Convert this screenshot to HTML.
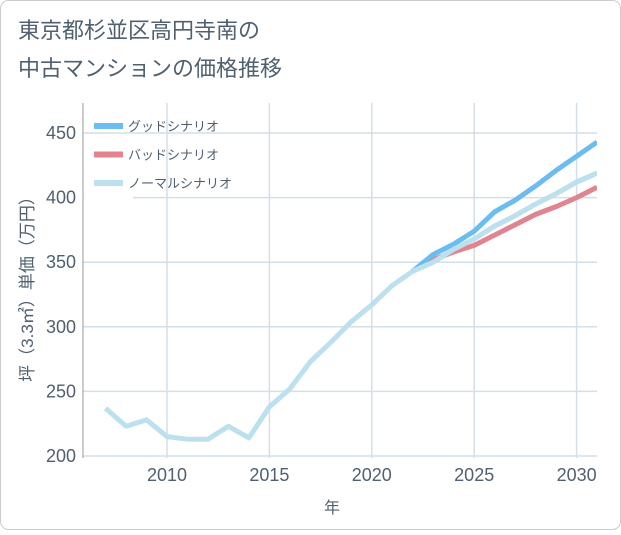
<!DOCTYPE html>
<html><head><meta charset="utf-8"><style>
body{margin:0;background:#fff;}
#wrap{position:relative;width:621px;height:530px;font-family:"Liberation Sans","Noto Sans CJK JP",sans-serif;}
</style></head><body>
<div id="wrap">
<svg id="chart" width="621" height="530" xmlns="http://www.w3.org/2000/svg">
<rect x="0.5" y="0.5" width="620" height="529" rx="8" fill="#fff" stroke="#ccc"/>
<text x="18" y="38" font-size="22" fill="#506070" font-family="Liberation Sans, Noto Sans CJK JP, sans-serif">東京都杉並区高円寺南の</text>
<text x="18" y="76" font-size="22" fill="#506070" font-family="Liberation Sans, Noto Sans CJK JP, sans-serif">中古マンションの価格推移</text>
<g id="grid"></g><g id="axes"></g><g id="series"></g><g id="legend"></g>
<text x="332" y="513" font-size="16" fill="#506070" text-anchor="middle" font-family="Liberation Sans, Noto Sans CJK JP, sans-serif">年</text>
<text transform="translate(33,285) rotate(-90)" font-size="17" fill="#506070" text-anchor="middle" font-family="Liberation Sans, Noto Sans CJK JP, sans-serif">坪（3.3㎡）単価（万円）</text>
</svg>
</div>
<script>
const years=[2007,2008,2009,2010,2011,2012,2013,2014,2015,2016,2017,2018,2019,2020,2021,2022,2023,2024,2025,2026,2027,2028,2029,2030,2031];
const normal=[237,223,228,215,213,213,223,214,238,252,273,288,304,317,332,343,350,360,368,378,386,395,403,412,419];
const goodYears=[2022,2023,2024,2025,2026,2027,2028,2029,2030,2031];
const good=[343,356,364,374,389,398,409,421,432,443];
const bad=[343,352,358,363,371,379,387,393,400,408];
const xTicks=[2010,2015,2020,2025,2030];
const yTicks=[200,250,300,350,400,450];
const L=83,R=597,T=103,B=458;
const x=v=>167+(v-2010)*20.48;
const y=v=>456-(v-200)*1.292;
const NS='http://www.w3.org/2000/svg';
function mk(p,tag,a){const e=document.createElementNS(NS,tag);for(const k in a)e.setAttribute(k,a[k]);p.appendChild(e);return e;}
const grid=document.getElementById('grid'),axes=document.getElementById('axes'),ser=document.getElementById('series'),leg=document.getElementById('legend');
xTicks.forEach(t=>{const l=mk(grid,'line',{x1:x(t),x2:x(t),y1:T,y2:B,stroke:'#d3dfe9','stroke-width':1.5});


const tx=mk(axes,'text',{x:x(t),y:481,'font-size':18,fill:'#506070','text-anchor':'middle'});tx.textContent=t;

});
yTicks.forEach(t=>{const l=mk(grid,'line',{x1:L,x2:R,y1:y(t),y2:y(t),stroke:'#d3dfe9','stroke-width':1.5});


const tx=mk(axes,'text',{x:76,y:y(t)+6,'font-size':18,fill:'#506070','text-anchor':'end'});tx.textContent=t;

});
const ax=mk(axes,'path',{d:`M${L},${T}V${B}`,stroke:'#999',fill:'none'});


const lb=mk(leg,'rect',{x:84,y:190,width:49,height:14,fill:'#fff'});


function line(xs,vs,c,name){const p=mk(ser,'polyline',{points:xs.map((t,i)=>x(t)+','+y(vs[i])).join(' '),fill:'none',stroke:c,'stroke-width':5,'stroke-linejoin':'round','clip-path':'url(#clip)'});

}
const defs=mk(document.getElementById('chart'),'defs',{});const cp=mk(defs,'clipPath',{id:'clip'});mk(cp,'rect',{x:L,y:T,width:R-L,height:B-T});
line(years,normal,'#bde0ee','normal-scenario-line');
line(goodYears,bad,'#e0858f','bad-scenario-line');
line(goodYears,good,'#6bbdf0','good-scenario-line');
line(years.slice(15),normal.slice(15),'#bde0ee','normal-scenario-line-top');
[['グッドシナリオ','#6bbdf0'],['バッドシナリオ','#e0858f'],['ノーマルシナリオ','#bde0ee']].forEach((d,i)=>{
const yy=126+i*28.5;
const s=mk(leg,'line',{x1:94,x2:123,y1:yy,y2:yy,stroke:d[1],'stroke-width':6});


const t=mk(leg,'text',{x:128,y:yy+5,'font-size':13,fill:'#506070'});t.textContent=d[0];

});
</script>
</body></html>
